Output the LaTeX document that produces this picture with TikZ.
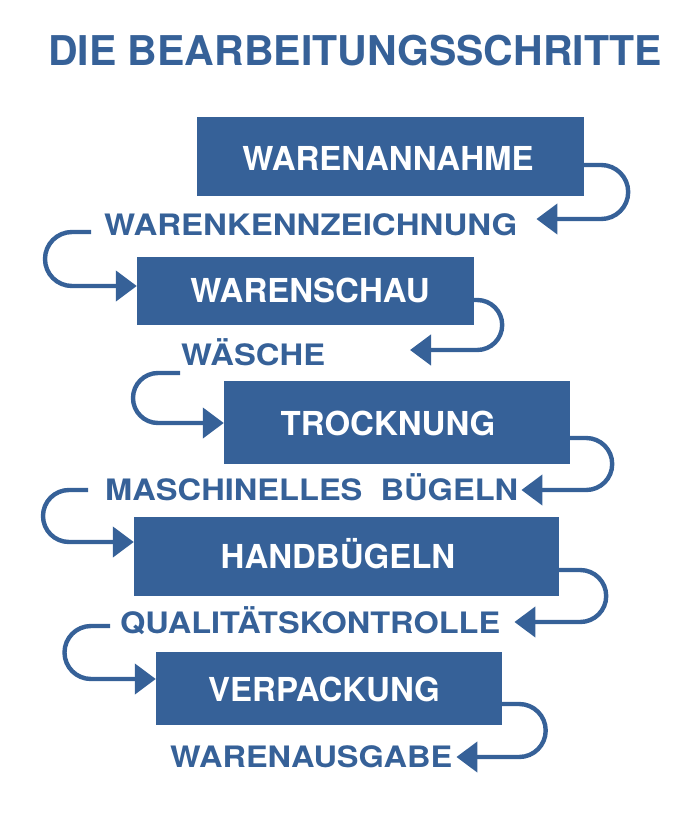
\documentclass[tikz,border=0pt]{standalone}
\usepackage{fontspec}
\setmainfont{TeX Gyre Heros}
\usepackage{graphicx}
\usetikzlibrary{arrows.meta}
\definecolor{fblue}{RGB}{54,97,152}
\tikzset{
  box/.style={fill=fblue, draw=none, inner sep=0pt},
  boxtext/.style={anchor=base, inner sep=0pt, text=white, font=\bfseries\fontsize{33}{39}\selectfont},
  lbl/.style={anchor=base west, inner sep=0pt, text=fblue, font=\bfseries\fontsize{29.5}{34}\selectfont},
  arr/.style={draw=fblue, line width=4.4pt, -{Triangle[length=21pt,width=30pt]}, fill=none}
}
\begin{document}
\begin{tikzpicture}[x=1pt,y=-1pt]
\useasboundingbox (0,0) rectangle (700,816);
% title
\node[anchor=base west, inner sep=0pt, text=fblue, font=\bfseries\fontsize{41}{48}\selectfont] (title) at (48,66) {DIE BEARBEITUNGSSCHRITTE};
% boxes
\node[box, minimum width=387pt, minimum height=79pt] (b1) at (390.5,156.5) {};
\node[box, minimum width=337pt, minimum height=68pt] (b2) at (305.5,291) {};
\node[box, minimum width=346pt, minimum height=83pt] (b3) at (397,422.5) {};
\node[box, minimum width=425pt, minimum height=79pt] (b4) at (346.5,556.5) {};
\node[box, minimum width=346pt, minimum height=73pt] (b5) at (329,688.5) {};
\node[boxtext] (t1) at (388,170) {WARENANNAHME};
\node[boxtext] (t2) at (310,302) {WARENSCHAU};
\node[boxtext] (t3) at (388,435) {TROCKNUNG};
\node[boxtext] (t4) at (338,568) {HANDBÜGELN};
\node[boxtext] (t5) at (324,701) {VERPACKUNG};
% labels
\node[lbl] (l1) at (104,235) {\resizebox{413pt}{\height}{WARENKENNZEICHNUNG}};
\node[lbl] (l2) at (181,365) {\resizebox{144pt}{\height}{WÄSCHE}};
\node[lbl] (l3) at (105,500) {\resizebox{413pt}{\height}{MASCHINELLES\ \ BÜGELN}};
\node[lbl] (l4) at (120,633) {\resizebox{380pt}{\height}{QUALITÄTSKONTROLLE}};
\node[lbl] (l5) at (170,767) {\resizebox{282pt}{\height}{WARENAUSGABE}};
% connectors
\draw[arr] (b1.east |- 0,165) -- ++(17,0) arc[start angle=-90,end angle=90,radius=27] -- ([xshift=19pt]l1.east |- 0,219);
\draw[arr] ([xshift=-13pt]l1.west |- 0,232) -- ++(-19,0) arc[start angle=270,end angle=90,radius=27] -- (b2.west |- 0,286);
\draw[arr] (b2.east |- 0,300) -- ++(3,0) arc[start angle=-90,end angle=90,radius=25] -- (410,350);
\draw[arr] ([xshift=-1pt]l2.west |- 0,373) -- ++(-22,0) arc[start angle=270,end angle=90,radius=25] -- (b3.west |- 0,423);
\draw[arr] (b3.east |- 0,438) -- ++(16,0) arc[start angle=-90,end angle=90,radius=26] -- ([xshift=3pt]l3.east |- 0,490);
\draw[arr] ([xshift=-17pt]l3.west |- 0,490) -- ++(-19,0) arc[start angle=270,end angle=90,radius=26] -- (b4.west |- 0,542);
\draw[arr] (b4.east |- 0,570) -- ++(21,0) arc[start angle=-90,end angle=90,radius=26] -- ([xshift=14pt]l4.east |- 0,622);
\draw[arr] ([xshift=-10pt]l4.west |- 0,626) -- ++(-19,0) arc[start angle=270,end angle=90,radius=26.5] -- (b5.west |- 0,679);
\draw[arr] (b5.east |- 0,704) -- ++(17,0) arc[start angle=-90,end angle=90,radius=26.5] -- ([xshift=4pt]l5.east |- 0,757);
\end{tikzpicture}
\end{document}
